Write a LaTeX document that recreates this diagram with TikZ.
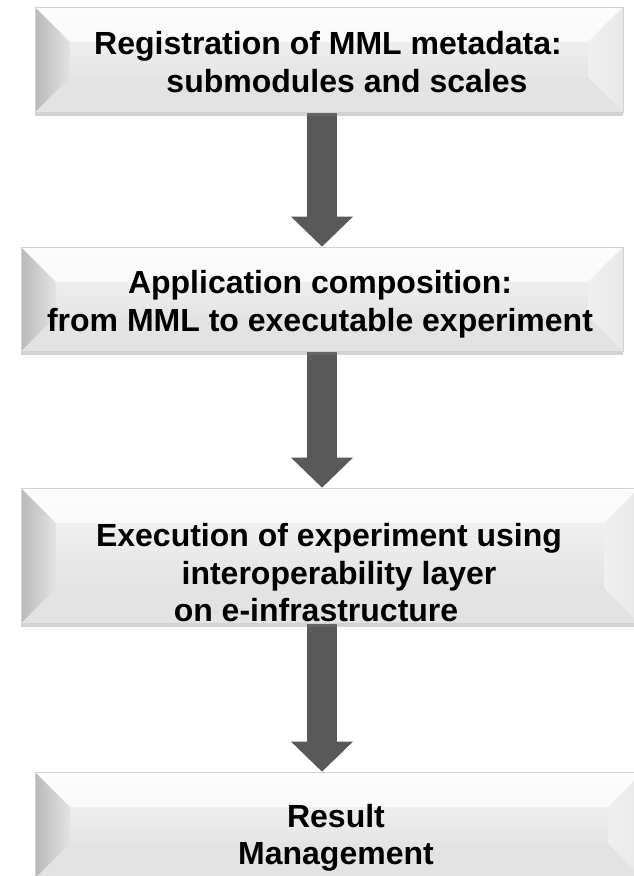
\documentclass[tikz,border=0pt]{standalone}
\usepackage{fontspec}
\setmainfont{Liberation Sans}
\usepackage{tikz}
\usetikzlibrary{arrows.meta,positioning,calc,shadows,backgrounds}
\definecolor{arrowgray}{HTML}{595959}
\definecolor{facetop}{HTML}{F7F7F7}
\definecolor{facebot}{HTML}{DCDCDC}

\begin{document}
\begin{tikzpicture}[
  x=1pt, y=-1pt,
  stepbox/.style={draw=gray!35, line width=0.6pt,
    top color=facetop, bottom color=facebot,
    drop shadow={shadow xshift=0pt, shadow yshift=-4pt, opacity=0.35},
    path picture={
      \coordinate (pnw) at (path picture bounding box.north west);
      \coordinate (pne) at (path picture bounding box.north east);
      \coordinate (psw) at (path picture bounding box.south west);
      \coordinate (pse) at (path picture bounding box.south east);
      % top bevel
      \fill[white, opacity=0.7] (pnw) -- (pne) -- ([shift={(-35pt,-35pt)}]pne)
        -- ([shift={(35pt,-35pt)}]pnw) -- cycle;
      % bottom bevel
      \fill[gray!22] (psw) -- (pse) -- ([shift={(-35pt,35pt)}]pse)
        -- ([shift={(35pt,35pt)}]psw) -- cycle;
      % left bevel
      \shade[left color=gray!55, right color=gray!22] (pnw)
        -- ([shift={(35pt,-35pt)}]pnw) -- ([shift={(35pt,35pt)}]psw)
        -- (psw) -- cycle;
      % right bevel
      \shade[left color=gray!12, right color=gray!18] (pne)
        -- ([shift={(-35pt,-35pt)}]pne) -- ([shift={(-35pt,35pt)}]pse)
        -- (pse) -- cycle;
      \draw[gray!65, line width=2pt] (pnw) -- (psw);
    }},
  steptext/.style={font=\bfseries\fontsize{32}{37.5}\selectfont,
    align=center, text=black},
  bigarrow/.style={line width=30pt, draw=arrowgray,
    -{Triangle[length=30pt, width=60pt]}}
]
\useasboundingbox (0,0) rectangle (633,876);

% the four steps
\node[stepbox, minimum width=588pt, minimum height=105pt] (reg) at (329,59.5) {};
\node[stepbox, minimum width=602pt, minimum height=104pt] (comp) at (322,299) {};
\node[stepbox, minimum width=618pt, minimum height=135pt] (exec) at (330,555.5) {};
\node[stepbox, minimum width=608pt, minimum height=106pt] (res) at (339,825) {};

\node[steptext] (regtext) at (328,62) {Registration of MML metadata:\\
  \hspace*{38pt}submodules and scales};
\node[steptext] (comptext) at (320,304) {Application composition:\\from MML to executable experiment};
\node[steptext] (exectext) at (329,573) {Execution of experiment using\\
  \hspace*{20pt}interoperability layer\\on e-infrastructure\hspace*{26pt}};
\node[steptext] (restext) at (336,838) {Result\\Management};

% arrows behind the boxes
\begin{scope}[on background layer]
\draw[bigarrow] ([xshift=-7pt]reg.south) -- (comp.north);
\draw[bigarrow] (comp.south) -- ([xshift=-8pt]exec.north);
\draw[bigarrow] ([xshift=-8pt]exec.south) -- ([xshift=-17pt]res.north);
\end{scope}
\end{tikzpicture}
\end{document}
